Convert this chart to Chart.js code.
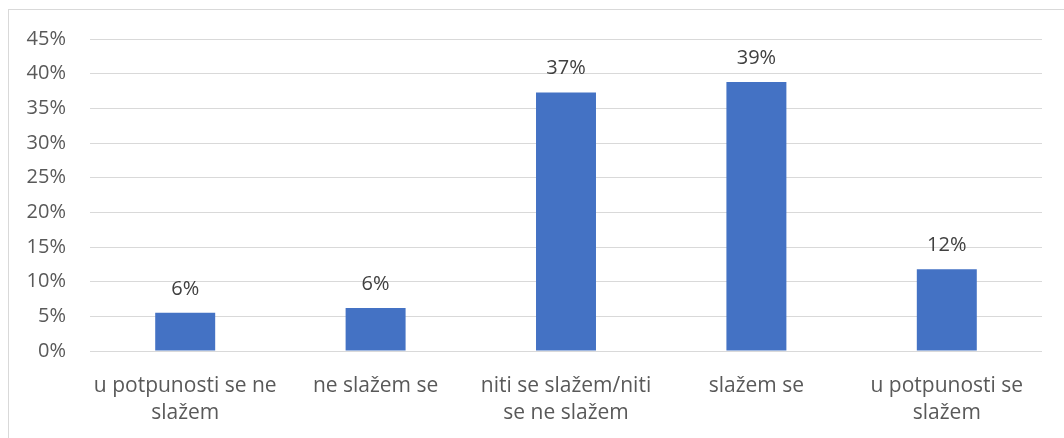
<!DOCTYPE html>
<html>
<head>
<meta charset="utf-8">
<script src="https://cdn.jsdelivr.net/npm/chart.js@4.4.1/dist/chart.umd.min.js"></script>
<style>
  html, body { margin: 0; padding: 0; background: #fff; }
  #wrap { position: relative; width: 1064px; height: 438px; overflow: hidden; }
  #frame { position: absolute; left: 8px; top: 9px; right: -2px; bottom: -2px; border-top: 1px solid #d9d9d9; border-left: 1px solid #d9d9d9; }
  canvas { position: absolute; left: 0; top: 0; }
</style>
</head>
<body>
<div id="wrap">
  <div id="frame"></div>
  <canvas id="c" width="1064" height="438"></canvas>
</div>
<script>
const categories = [
  ['u potpunosti se ne', 'slažem'],
  'ne slažem se',
  ['niti se slažem/niti', 'se ne slažem'],
  'slažem se',
  ['u potpunosti se', 'slažem']
];
const values = [5.5, 6.2, 37.3, 38.8, 11.8];
const yTicks = [0, 5, 10, 15, 20, 25, 30, 35, 40, 45];

const FONT = '"Open Sans", Lato, sans-serif';

const labelPlugin = {
  id: 'barLabels',
  afterDatasetsDraw(chart) {
    const ctx = chart.ctx;
    const meta = chart.getDatasetMeta(0);
    ctx.save();
    ctx.font = '20px ' + FONT;
    ctx.fillStyle = '#404040';
    ctx.textAlign = 'center';
    ctx.textBaseline = 'alphabetic';
    meta.data.forEach((el, i) => {
      ctx.fillText(Math.round(values[i]) + '%', el.x, el.y - 18);
    });
    ctx.restore();
  }
};

new Chart(document.getElementById('c'), {
  type: 'bar',
  data: {
    labels: categories,
    datasets: [{
      data: values,
      backgroundColor: '#4472C4',
      borderWidth: 0,
      categoryPercentage: 1,
      barPercentage: 0.315
    }]
  },
  options: {
    responsive: false,
    animation: false,
    devicePixelRatio: 1,
    layout: { padding: { left: 0, right: 22, top: 39, bottom: 0 } },
    plugins: { legend: { display: false }, tooltip: { enabled: false } },
    scales: {
      x: {
        grid: { display: false },
        border: { display: false },
        ticks: {
          color: '#595959',
          font: { family: FONT, size: 21, lineHeight: 1.31 },
          padding: 13,
          maxRotation: 0,
          autoSkip: false
        },
        afterFit(scale) { scale.height = 87; }
      },
      y: {
        min: 0,
        max: 45,
        afterBuildTicks(scale) { scale.ticks = yTicks.map(v => ({ value: v })); },
        grid: { color: '#d9d9d9', lineWidth: 1, drawTicks: false },
        border: { display: false },
        ticks: {
          color: '#595959',
          font: { family: FONT, size: 20 },
          padding: 24,
          callback: v => v + '%'
        },
        afterFit(scale) { scale.width = 90; }
      }
    }
  },
  plugins: [labelPlugin]
});
</script>
</body>
</html>
